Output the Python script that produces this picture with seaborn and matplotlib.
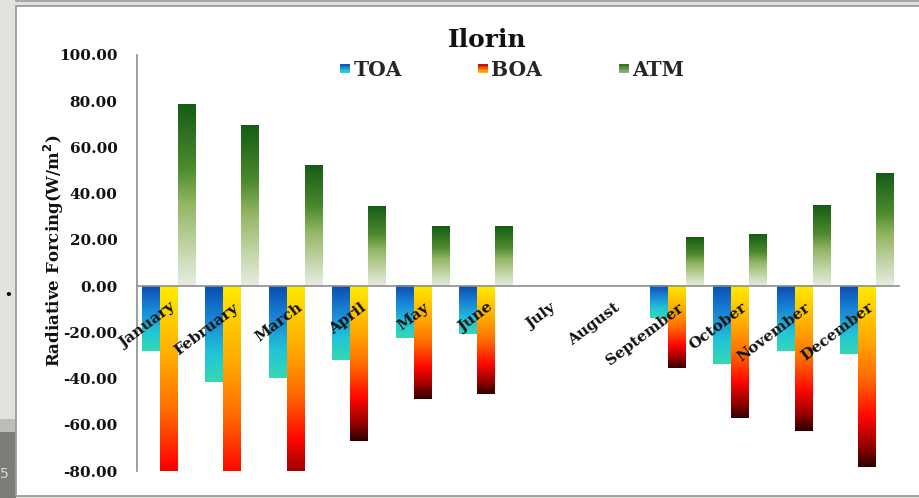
import numpy as np
import pandas as pd
import matplotlib
matplotlib.use("Agg")
import matplotlib.pyplot as plt
import matplotlib.transforms as mtransforms
from matplotlib.colors import LinearSegmentedColormap
from matplotlib.patches import Rectangle
from matplotlib.lines import Line2D
from matplotlib.legend_handler import HandlerBase
import seaborn as sns

# ---- data (W/m^2) ----
months = ["January", "February", "March", "April", "May", "June",
          "July", "August", "September", "October", "November", "December"]
series_names = ["TOA", "BOA", "ATM"]
toa = [-28.1, -41.5, -39.6, -32.0, -22.6, -20.7, np.nan, np.nan, -13.9, -33.9, -28.0, -29.4]
boa = [-106.7, -110.8, -91.7, -66.9, -48.9, -46.7, np.nan, np.nan, -35.6, -56.9, -62.9, -78.2]
atm = [78.6, 69.3, 52.1, 34.4, 25.7, 25.7, np.nan, np.nan, 21.2, 22.5, 34.8, 48.8]
y_ticks = [-80, -60, -40, -20, 0, 20, 40, 60, 80, 100]

df = pd.DataFrame({
    "Month": months * 3,
    "Series": [s for s in series_names for _ in months],
    "Value": toa + boa + atm,
})

sns.set_style("white")
plt.rcParams["font.family"] = ["DejaVu Serif"]
plt.rcParams["font.weight"] = "bold"

# vertical gradients, listed top -> bottom on screen
cmaps = {
    "TOA": LinearSegmentedColormap.from_list("toa", [
        (0.0, "#0a4db3"), (0.35, "#1a86d6"), (0.7, "#22c4d8"), (1.0, "#34d8b4")]),
    "BOA": LinearSegmentedColormap.from_list("boa", [
        (0.0, "#ffea00"), (0.3, "#ffa800"), (0.5, "#ff6e00"), (0.72, "#ff0800"),
        (0.88, "#9a0000"), (1.0, "#2e0000")]),
    "ATM": LinearSegmentedColormap.from_list("atm", [
        (0.0, "#165c16"), (0.35, "#4d8a2e"), (0.55, "#93b664"), (0.8, "#c4d6aa"),
        (1.0, "#e6ede0")]),
}
legend_cmaps = {
    "TOA": cmaps["TOA"],
    "BOA": LinearSegmentedColormap.from_list("boa_leg", ["#c00000", "#ff6a00", "#ffd000"]),
    "ATM": LinearSegmentedColormap.from_list("atm_leg", ["#2e6e22", "#9cbc78"]),
}

W, H = 920, 498
fig = plt.figure(figsize=(W / 100, H / 100), dpi=100)
fig.patch.set_facecolor("#e3e3de")

# slide background pieces
fig.patches.append(Rectangle((0, 0), 16 / W, 66 / H, transform=fig.transFigure,
                             facecolor="#7d7d77", edgecolor="none", zorder=-5))
fig.patches.append(Rectangle((0, 66 / H), 16 / W, 13 / H, transform=fig.transFigure,
                             facecolor="#bdbdb8", edgecolor="none", zorder=-5))
fig.text(0.5 / W, 1 - 474 / H, "5 1", fontsize=10, color="#d9d9d6", family="DejaVu Sans",
         weight="normal", ha="left", va="center", zorder=-4)
fig.text(8 / W, 1 - 295 / H, "\u2022", fontsize=9, color="black", family="DejaVu Sans",
         ha="center", va="center", zorder=-4)
fig.patches.append(Rectangle((16 / W, 2 / H), 1.0, (H - 8) / H, transform=fig.transFigure,
                             facecolor="white", edgecolor="#9c9c9c", linewidth=1.3,
                             zorder=-3))
fig.lines.append(Line2D([16 / W, 1], [1 - 1 / H, 1 - 1 / H], transform=fig.transFigure,
                        color="#a8a8a8", linewidth=1.5, zorder=-3))

ax = fig.add_axes([137 / W, 27 / H, 762 / W, 416 / H])
ax.set_facecolor("none")

sns.barplot(data=df, x="Month", y="Value", hue="Series", order=months,
            hue_order=series_names, width=0.85, dodge=True, errorbar=None,
            saturation=1, legend=False, ax=ax)

# replace flat fills with vertical gradients clipped to each bar
grad = np.linspace(0, 1, 256).reshape(-1, 1)
for name, cont in zip(series_names, ax.containers):
    for bar in cont:
        h = bar.get_height()
        if not np.isfinite(h) or h == 0:
            continue
        x0, w, y0 = bar.get_x(), bar.get_width(), bar.get_y()
        lo, hi = min(y0, y0 + h), max(y0, y0 + h)
        im = ax.imshow(grad, cmap=cmaps[name], aspect="auto", origin="upper",
                       extent=(x0, x0 + w, lo, hi), interpolation="bilinear", zorder=2)
        im.set_clip_path(bar)
        im.set_clip_box(ax.bbox)
        bar.set_facecolor("none")
        bar.set_edgecolor("none")

ax.set_xlim(-0.5, len(months) - 0.5)
ax.set_ylim(-80, 100)

axis_grey = "#8e8e8e"
for side in ("top", "right"):
    ax.spines[side].set_visible(False)
ax.spines["left"].set_color(axis_grey)
ax.spines["left"].set_linewidth(1.2)
ax.spines["bottom"].set_position(("data", 0))
ax.spines["bottom"].set_color(axis_grey)
ax.spines["bottom"].set_linewidth(1.2)
ax.spines["bottom"].set_zorder(3)

ax.set_yticks(y_ticks)
ax.set_yticklabels([f"{v:.2f}" for v in y_ticks])
ax.tick_params(axis="y", direction="out", length=4, width=1.1, color=axis_grey,
               pad=10, labelsize=11, labelcolor="#111111")
ax.set_xticks(np.arange(-0.5, len(months), 1.0))
ax.set_xticklabels([])
ax.tick_params(axis="x", direction="out", length=4, width=1.1, color=axis_grey)
ax.set_xlabel("")
ax.set_ylabel("Radiative Forcing(W/m$^\\mathbf{2}$)", fontsize=12, weight="bold",
              color="#111111")
ax.yaxis.set_label_coords(-0.093, 0.53)

# rotated month names sitting just below the zero line
lab_tr = mtransforms.offset_copy(ax.transData, fig=fig, x=5, y=-20, units="dots")
for i, m in enumerate(months):
    ax.text(i, 0, m, transform=lab_tr, rotation=37, rotation_mode="anchor",
            ha="right", va="center", fontsize=11, weight="bold", color="#111111",
            zorder=5)

fig.text(487 / W, 1 - 40 / H, "Ilorin", fontsize=18, weight="bold",
         ha="center", va="center", color="#111111")


class GradientBox(HandlerBase):
    def __init__(self, cmap):
        super().__init__()
        self.cmap = cmap

    def create_artists(self, legend, orig_handle, xdescent, ydescent, width, height,
                       fontsize, trans):
        n = 6
        bw, bh = width, height * 0.75
        bx, by = -xdescent, -ydescent + (height - bh) / 2
        arts = []
        for k in range(n):
            c = self.cmap((k + 0.5) / n)
            arts.append(Rectangle((bx, by + bh * (n - 1 - k) / n), bw, bh / n,
                                  facecolor=c, edgecolor="none", transform=trans))
        return arts


handles = [Rectangle((0, 0), 1, 1) for _ in series_names]
fig.legend(handles, series_names, loc="center", bbox_to_anchor=(512 / W, 1 - 70 / H),
           ncol=3, frameon=False, columnspacing=3.8, handlelength=0.5,
           handleheight=0.55, handletextpad=0.15,
           prop={"size": 14.5, "weight": "bold", "family": "DejaVu Serif"},
           handler_map={h: GradientBox(legend_cmaps[n]) for h, n in zip(handles, series_names)})

fig.savefig("out.png", dpi=100, facecolor=fig.get_facecolor())
